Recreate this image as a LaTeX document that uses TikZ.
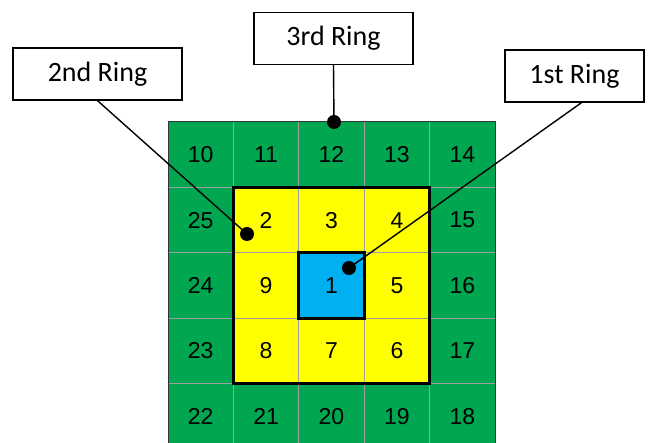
\documentclass[tikz,border=0pt]{standalone}
\usepackage{fontspec}
\setmainfont{Carlito}
\newfontfamily\arialfont{Liberation Sans}
\usetikzlibrary{positioning}
\definecolor{ringgreen}{RGB}{0,166,80}
\definecolor{ringyellow}{RGB}{255,255,0}
\definecolor{ringblue}{RGB}{0,176,240}
\tikzset{
  cell/.style={draw=gray!75,line width=1pt,minimum size=65.4pt,inner sep=0pt,outer sep=0pt,
    font=\arialfont\fontsize{23}{23}\selectfont},
  ringlabel/.style={draw,line width=1.3pt,fill=white,inner sep=0pt,minimum height=52pt,
    font=\fontsize{28}{28}\selectfont},
  pindot/.style={circle,fill=black,minimum size=14pt,inner sep=0pt},
  pinline/.style={line width=1.4pt},
}

\begin{document}
\begin{tikzpicture}[x=1pt,y=-1pt]
\useasboundingbox (0,0) rectangle (649,443);
% the 5x5 grid, numbered as a spiral
\foreach \n/\r/\c/\col in {10/0/0/ringgreen, 11/0/1/ringgreen, 12/0/2/ringgreen, 13/0/3/ringgreen, 14/0/4/ringgreen,
  25/1/0/ringgreen, 2/1/1/ringyellow, 3/1/2/ringyellow, 4/1/3/ringyellow, 15/1/4/ringgreen,
  24/2/0/ringgreen, 9/2/1/ringyellow, 1/2/2/ringblue, 5/2/3/ringyellow, 16/2/4/ringgreen,
  23/3/0/ringgreen, 8/3/1/ringyellow, 7/3/2/ringyellow, 6/3/3/ringyellow, 17/3/4/ringgreen,
  22/4/0/ringgreen, 21/4/1/ringgreen, 20/4/2/ringgreen, 19/4/3/ringgreen, 18/4/4/ringgreen}{
  \node[cell,fill=\col] (c\n) at ({168+65.4*(\c+0.5)},{122+65.4*(\r+0.5)}) {\n};
}
\draw[line width=1pt,black!80] (c10.north west) rectangle (c18.south east);
\draw[line width=3pt] (c2.north west) rectangle (c6.south east);
\draw[line width=3pt] (c1.north west) rectangle (c1.south east);

% pins
\node[pindot] (dot3) at (334,122) {};
\node[pindot] (dot2) at (247,234) {};
\node[pindot] (dot1) at (349,268) {};

% labels
\node[ringlabel,minimum width=159pt] (ring3) at (333.5,38.5) {3rd Ring};
\node[ringlabel,minimum width=169pt] (ring2) at (97.5,74) {2nd Ring};
\node[ringlabel,minimum width=139pt] (ring1) at (574.5,76) {1st Ring};

\draw[pinline] (ring3.south) -- (dot3.center);
\draw[pinline] (ring2.south) -- (dot2.center);
\draw[pinline] ([xshift=7pt]ring1.south) -- (dot1.center);
\end{tikzpicture}
\end{document}
